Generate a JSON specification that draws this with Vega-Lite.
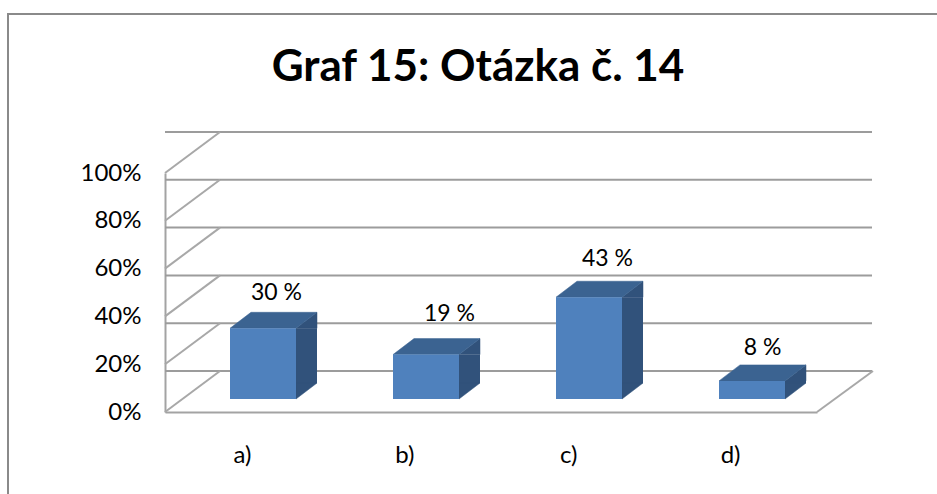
{"$schema":"https://vega.github.io/schema/vega-lite/v6.json","autosize":{"type":"none"},"width":652,"height":239,"padding":{"left":165,"top":173,"right":120,"bottom":82},"background":"white","title":{"text":"Graf 15: Otázka č. 14","font":"Lato","fontSize":44,"fontWeight":"bold","color":"#000000","anchor":"middle","frame":"group","dx":-13,"offset":-80},"datasets":{"bars":[{"cat":"a)","value":30,"label":"30 %"},{"cat":"b)","value":19,"label":"19 %"},{"cat":"c)","value":43,"label":"43 %"},{"cat":"d)","value":8,"label":"8 %"}],"ticks":[{"tick":0},{"tick":20},{"tick":40},{"tick":60},{"tick":80},{"tick":100}]},"data":{"name":"bars"},"config":{"view":{"stroke":null},"axis":{"labelFont":"Lato","labelFontSize":24,"labelColor":"#000000","grid":false,"ticks":false,"title":null,"domainColor":"#a3a3a3","domainWidth":2}},"layer":[{"mark":{"type":"point","shape":"M-238.5,90L-238.5,-398L700,-398","filled":false,"stroke":"#8a8a8a","strokeWidth":2,"size":4,"opacity":1},"data":{"values":[{"frame":1}]},"encoding":{"x":{"datum":"a)","type":"nominal"},"y":{"datum":0,"type":"quantitative"}}},{"data":{"name":"ticks"},"mark":{"type":"rule","color":"#9c9c9c","strokeWidth":2,"xOffset":55,"x2Offset":55,"yOffset":-41},"encoding":{"y":{"field":"tick","type":"quantitative","scale":{"domain":[0,100],"nice":false},"axis":{"values":[0,20,40,60,80,100],"labelExpr":"datum.value + '%'","labelPadding":24,"domain":true}}}},{"data":{"name":"ticks"},"mark":{"type":"point","shape":"M-81.5,0L-26.5,-41","filled":false,"stroke":"#a8a8a8","strokeWidth":2,"size":4,"opacity":1},"encoding":{"x":{"datum":"a)","type":"nominal"},"y":{"field":"tick","type":"quantitative"}}},{"data":{"values":[{"floor":0}]},"mark":{"type":"point","shape":"M81.5,0L137.5,-41","filled":false,"stroke":"#a8a8a8","strokeWidth":2,"size":4,"opacity":1},"encoding":{"x":{"datum":"d)","type":"nominal"},"y":{"field":"floor","type":"quantitative"}}},{"mark":{"type":"bar","color":"#31527b","width":21,"xOffset":60,"x2Offset":60,"yOffset":-12,"y2Offset":-29},"encoding":{"x":{"field":"cat","type":"nominal","sort":null,"scale":{"paddingInner":0,"paddingOuter":0},"axis":{"labelAngle":0,"labelPadding":43,"labelOffset":5,"domain":true}},"y":{"field":"value","type":"quantitative","stack":null},"y2":{"datum":0}}},{"mark":{"type":"point","shape":"M33,0L54,-16L54,0Z","filled":true,"fill":"#31527b","stroke":"#31527b","strokeWidth":0.5,"size":4,"opacity":1,"xOffset":16.5,"yOffset":-12},"encoding":{"x":{"field":"cat","type":"nominal"},"y":{"field":"value","type":"quantitative"}}},{"mark":{"type":"point","shape":"M33,0L54,-16L33,-16Z","filled":true,"fill":"#31527b","stroke":"#31527b","strokeWidth":0.5,"size":4,"opacity":1,"xOffset":16.5,"yOffset":-13},"encoding":{"x":{"field":"cat","type":"nominal"},"y":{"datum":0,"type":"quantitative"}}},{"mark":{"type":"point","shape":"M-33,0L33,0L54,-16L-12,-16Z","filled":true,"fill":"#3b6391","stroke":"#3b6391","strokeWidth":0.5,"size":4,"opacity":1,"xOffset":16.5,"yOffset":-12},"encoding":{"x":{"field":"cat","type":"nominal"},"y":{"field":"value","type":"quantitative"}}},{"mark":{"type":"bar","color":"#4f81bd","width":66,"xOffset":16.5,"x2Offset":16.5,"yOffset":-12,"y2Offset":-13},"encoding":{"x":{"field":"cat","type":"nominal"},"y":{"field":"value","type":"quantitative","stack":null},"y2":{"datum":0}}},{"transform":[{"filter":"datum.cat === 'a)'"}],"mark":{"type":"text","font":"Lato","fontSize":23,"color":"#000000","dx":30,"dy":-47},"encoding":{"x":{"field":"cat","type":"nominal"},"y":{"field":"value","type":"quantitative"},"text":{"field":"label"}}},{"transform":[{"filter":"datum.cat === 'b)'"}],"mark":{"type":"text","font":"Lato","fontSize":23,"color":"#000000","dx":40,"dy":-53},"encoding":{"x":{"field":"cat","type":"nominal"},"y":{"field":"value","type":"quantitative"},"text":{"field":"label"}}},{"transform":[{"filter":"datum.cat === 'c)'"}],"mark":{"type":"text","font":"Lato","fontSize":23,"color":"#000000","dx":35,"dy":-50},"encoding":{"x":{"field":"cat","type":"nominal"},"y":{"field":"value","type":"quantitative"},"text":{"field":"label"}}},{"transform":[{"filter":"datum.cat === 'd)'"}],"mark":{"type":"text","font":"Lato","fontSize":23,"color":"#000000","dx":27,"dy":-45},"encoding":{"x":{"field":"cat","type":"nominal"},"y":{"field":"value","type":"quantitative"},"text":{"field":"label"}}}]}
